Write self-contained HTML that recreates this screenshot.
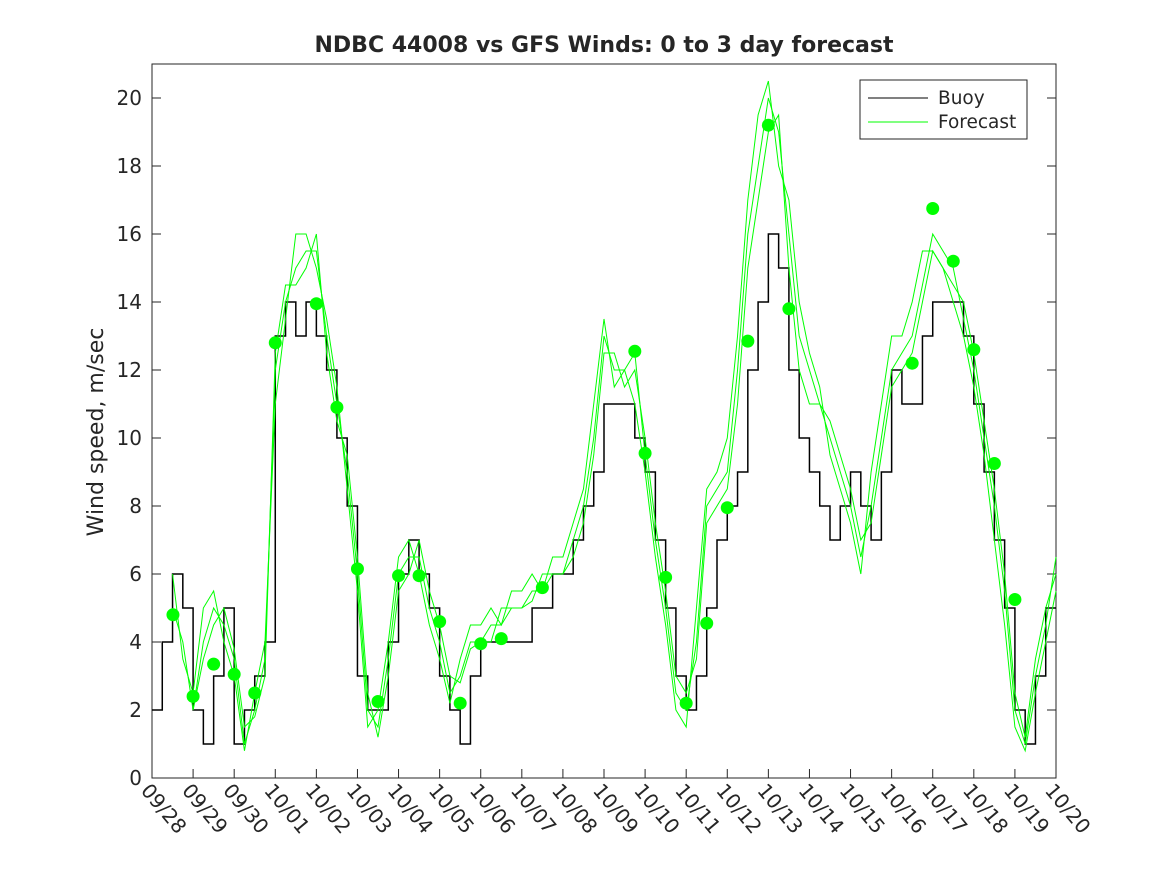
<!DOCTYPE html>
<html><head><meta charset="utf-8"><style>
body{margin:0;background:#fff;}
svg text{font-family:"DejaVu Sans","Liberation Sans",sans-serif;fill:#262626;}
</style></head><body>
<svg id="c" width="1167" height="875" xmlns="http://www.w3.org/2000/svg">
<rect width="1167" height="875" fill="#fff"/>
<text x="604" y="52" text-anchor="middle" font-size="22" font-weight="bold" fill="#000">NDBC 44008 vs GFS Winds: 0 to 3 day forecast</text>
<text transform="translate(103,432) rotate(-90)" text-anchor="middle" font-size="22">Wind speed, m/sec</text>
<g id="plot"></g>
<g id="legend">
<rect x="860" y="80" width="167" height="59" fill="#fff" stroke="#262626" stroke-width="1"/>
<line x1="868" y1="98" x2="928" y2="98" stroke="#000" stroke-width="1"/>
<text x="938" y="104" font-size="18.5">Buoy</text>
<line x1="868" y1="122" x2="928" y2="122" stroke="#00ff00" stroke-width="1"/>
<text x="938" y="128" font-size="18.5">Forecast</text>
</g>
</svg>
<script>
const dateLabels=["09/28","09/29","09/30","10/01","10/02","10/03","10/04","10/05","10/06","10/07","10/08","10/09","10/10","10/11","10/12","10/13","10/14","10/15","10/16","10/17","10/18","10/19","10/20"];
const yTicks=[0,2,4,6,8,10,12,14,16,18,20];
// values every 6 hours starting 09/28 00:00
const buoy=[2,4,6,5, 2,1,3,5, 1,2,3,4, 13,14,13,14, 13,12,10,8, 3,2,2,4, 6,7,6,5, 3,2,1,3, 4,4,4,4, 4,5,5,6, 6,7,8,9, 11,11,11,10, 9,7,5,3, 2,3,5,7, 8,9,12,14, 16,15,12,10, 9,8,7,8, 9,8,7,9, 12,11,11,13, 14,14,14,13, 11,9,7,5, 2,1,3,5];
const fc1=[null,null,5,4, 2,4,5,4.5, 3.5,1,2,3.5, 12,14,15,15.5, 15.5,13,11,9, 6,2,1.5,3.5, 6,6.5,6.5,5, 4,2.5,3,4, 4,4.5,4.5,5, 5,5.5,5.5,6, 6,7,8,10, 13,12,12,12.5, 9.5,7,5,2.5, 2,4,8,8.5, 9,12,16,18, 20,19,16,13, 12,11,10,9, 8,6.5,8,10, 12,12.5,13,14.5, 16,15.5,15,13.5, 12,10,8,5.5, 2,1,3,4.5, 6.5];
const fc2=[null,null,6,3.5, 2.5,5,5.5,4, 3,0.8,2.5,4, 11,13.5,16,16, 15,13.5,11.5,8.5, 5.5,1.5,2,4, 6.5,7,6,4.5, 3.5,2.2,3.5,4.5, 4.5,5,4.5,5.5, 5.5,6,5.5,6.5, 6.5,7.5,8.5,11, 13.5,11.5,12,11, 9,6.5,4.5,2, 1.5,5,8.5,9, 10,13,17,19.5, 20.5,18,17,14, 12.5,11.5,9.5,8.5, 7.5,6,9,11, 13,13,14,15.5, 15.5,15,14,13, 11.5,9.5,7,4.5, 1.5,0.8,2.5,4, 5.5];
const fc3=[null,null,null,null, 2,3.5,4.5,5, 3.8,1.5,1.8,3, 12.5,14.5,14.5,15, 16,12.5,10.5,9.5, 6.5,2.5,1.2,3, 5.5,6,7,5.5, 4.5,3,2.8,3.8, 4,4,5,5, 5,5.2,6,6, 6,6.5,7.5,9.5, 12.5,12.5,11.5,12, 10,7.5,5.5,3, 2.5,3.5,7.5,8, 8.5,11,15,17, 19,19.5,15,12, 11,11,10.5,9.5, 8.5,7,7.5,9.5, 11.5,12,12.5,14, 15.5,15,14.5,14, 12.5,10.5,8.5,6, 2.5,1.2,3.5,5, 6];
const dotDays=[0.51,1.0,1.5,2.0,2.5,3.0,4.0,4.5,5.0,5.5,6.0,6.5,7.0,7.5,8.0,8.5,9.5,11.75,12.0,12.5,13.0,13.5,14.0,14.5,15.0,15.5,18.5,19.0,19.5,20.0,20.5,21.0];
const dotVals=[4.8,2.4,3.35,3.05,2.5,12.8,13.95,10.9,6.15,2.25,5.95,5.95,4.6,2.2,3.95,4.1,5.6,12.55,9.55,5.9,2.2,4.55,7.95,12.85,19.2,13.8,12.2,16.75,15.2,12.6,9.25,5.25];

const NS="http://www.w3.org/2000/svg";
const L=152,R=1056,T=64,B=778;
const X=d=>L+(R-L)*d/22;
const Y=v=>B-(B-T)*v/21;
const g=document.getElementById('plot');
function mk(tag,attrs){const e=document.createElementNS(NS,tag);for(const k in attrs)e.setAttribute(k,attrs[k]);g.appendChild(e);return e;}

const frame=mk('rect',{x:L,y:T,width:R-L,height:B-T,fill:'none',stroke:'#262626','stroke-width':1});



yTicks.forEach(v=>{
  const y=Y(v);
  const t1=mk('line',{x1:L,y1:y,x2:L+9,y2:y,stroke:'#262626'});
  
  
  const t2=mk('line',{x1:R,y1:y,x2:R-9,y2:y,stroke:'#262626'});
  
  
  const tx=mk('text',{x:L-10,y:y+7,'text-anchor':'end','font-size':20});
  tx.textContent=v;
  
  
});
dateLabels.forEach((s,i)=>{
  const x=X(i);
  const t1=mk('line',{x1:x,y1:B,x2:x,y2:B-9,stroke:'#262626'});
  
  
  const tx=mk('text',{x:0,y:0,'font-size':20,transform:`translate(${x-12},${B+13}) rotate(50)`});
  tx.textContent=s;
  
  
});

// buoy step line
let d='';
buoy.forEach((v,i)=>{
  const x0=X(i/4),x1=X((i+1)/4);
  d+=(i===0?'M':'L')+x0+','+Y(v)+'L'+x1+','+Y(v);
});
const bp=mk('path',{d:d,fill:'none',stroke:'#000','stroke-width':1.5});



[fc1,fc2,fc3].forEach((arr,k)=>{
  let p='',pen=false;
  arr.forEach((v,i)=>{
    if(v===null){pen=false;return;}
    p+=(pen?'L':'M')+X(i/4)+','+Y(v);pen=true;
  });
  const fp=mk('path',{d:p,fill:'none',stroke:'#00ff00','stroke-width':1});
  
  
});

dotDays.forEach((dd,i)=>{
  const c=mk('circle',{cx:X(dd),cy:Y(dotVals[i]),r:6.5,fill:'#00ff00'});
  
  
});
</script>
</body></html>
